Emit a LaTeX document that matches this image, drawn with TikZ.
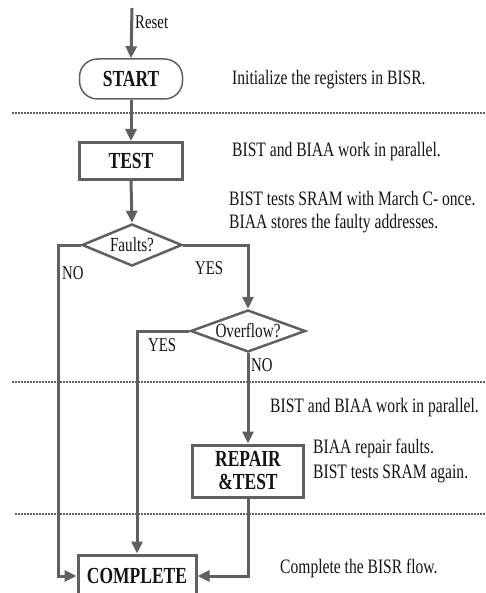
\documentclass[tikz,border=0pt]{standalone}
\usepackage{fontspec}
\setmainfont{Liberation Serif}[FakeStretch=0.76]
\usetikzlibrary{positioning, shapes.geometric, arrows.meta, calc}
\definecolor{flowgray}{RGB}{96,96,96}
\definecolor{textgray}{RGB}{20,20,20}

\begin{document}
\begin{tikzpicture}[x=1pt, y=-1pt,
		% --- STYLES ---
		termblock/.style={
			rectangle, draw=flowgray, line width=1.5pt, rounded corners=18pt,
			minimum width=103pt, minimum height=40pt, align=center, text=textgray,
			font=\bfseries\fontsize{23}{27}\selectfont
		},
		procblock/.style={
			rectangle, draw=flowgray, line width=3pt,
			minimum width=103pt, minimum height=37pt, align=center, text=textgray,
			font=\bfseries\fontsize{23}{27}\selectfont, inner sep=1pt
		},
		decision/.style={
			diamond, draw=flowgray, line width=2.5pt, aspect=2.75, inner sep=0pt,
			minimum width=100pt, minimum height=42pt, text=textgray,
			font=\fontsize{20}{24}\selectfont
		},
		line/.style={
			draw=flowgray, line width=3pt, -{Triangle[length=12pt, width=11pt]}
		},
		note/.style={
			anchor=base west, inner sep=0pt, align=left, text=textgray,
			font=\fontsize{20.5}{24}\selectfont
		},
		flowlabel/.style={
			anchor=base west, inner sep=0pt, text=textgray,
			font=\fontsize{19.5}{23}\selectfont
		},
		sepline/.style={
			draw=flowgray, line width=1.6pt, dash pattern=on 1.6pt off 1.4pt
		}
	]
	\useasboundingbox (0,0) rectangle (486,593);
	
	% --- 1. Blocks ---
	\node [termblock] (start) at (131,79) {START};
	\node [procblock] (test) at (131,161) {TEST};
	\node [decision] (faults) at (132,245) {Faults?};
	\node [decision, minimum width=115pt] (overflow) at (248,331) {Overflow?};
	\node [procblock, minimum width=111pt, minimum height=52pt] (repair) at (248,471) {REPAIR\\[-4pt]\&TEST};
	\node [procblock, minimum width=118pt, minimum height=42pt] (complete) at (137,576) {COMPLETE};
	
	% --- 2. Stage separators ---
	\draw [sepline] (12,113) -- (486,113);
	\draw [sepline] (12,382) -- (486,382);
	\draw [sepline] (15,514) -- (486,514);
	
	% --- 3. Connections ---
	\coordinate (reset_in) at (132,8);
	\draw [line] (reset_in) -- (start.north);
	\node [flowlabel] (reset) at (135,29) {Reset};
	\draw [line] (start.south) -- (test.north);
	\draw [line] (test.south) -- (faults.north);
	
	% NO branch straight to COMPLETE
	\coordinate (no_turn) at (58,576);
	\draw [line] (faults.west) -| (no_turn) -- (complete.west);
	\node [flowlabel] (no1) at (62,279) {NO};
	
	% YES branch to Overflow
	\draw [line] (faults.east) -| (overflow.north);
	\node [flowlabel] (yes1) at (195,274) {YES};
	
	% Overflow YES to COMPLETE
	\draw [line] (overflow.west) -| (complete.north);
	\node [flowlabel] (yes2) at (148,351) {YES};
	
	% Overflow NO to REPAIR
	\draw [line] (overflow.south) -- (repair.north);
	\node [flowlabel] (no2) at (251,371) {NO};
	
	% REPAIR back to COMPLETE
	\draw [line] (repair.south) |- (complete.east);
	
	% --- 4. Notes ---
	\node [note] (n_start) at (232,85) {Initialize the registers in BISR.};
	\node [note] (n_par1) at (232,157) {BIST and BIAA work in parallel.};
	\node [note] (n_march) at (229,206) {BIST tests SRAM with March C- once.};
	\node [note] (n_store) at (229,229) {BIAA stores the faulty addresses.};
	\node [note] (n_par2) at (270,412) {BIST and BIAA work in parallel.};
	\node [note] (n_repair) at (313,453) {BIAA repair faults.};
	\node [note] (n_again) at (313,478) {BIST tests SRAM again.};
	\node [note] (n_done) at (280,573) {Complete the BISR flow.};
	
\end{tikzpicture}
\end{document}
